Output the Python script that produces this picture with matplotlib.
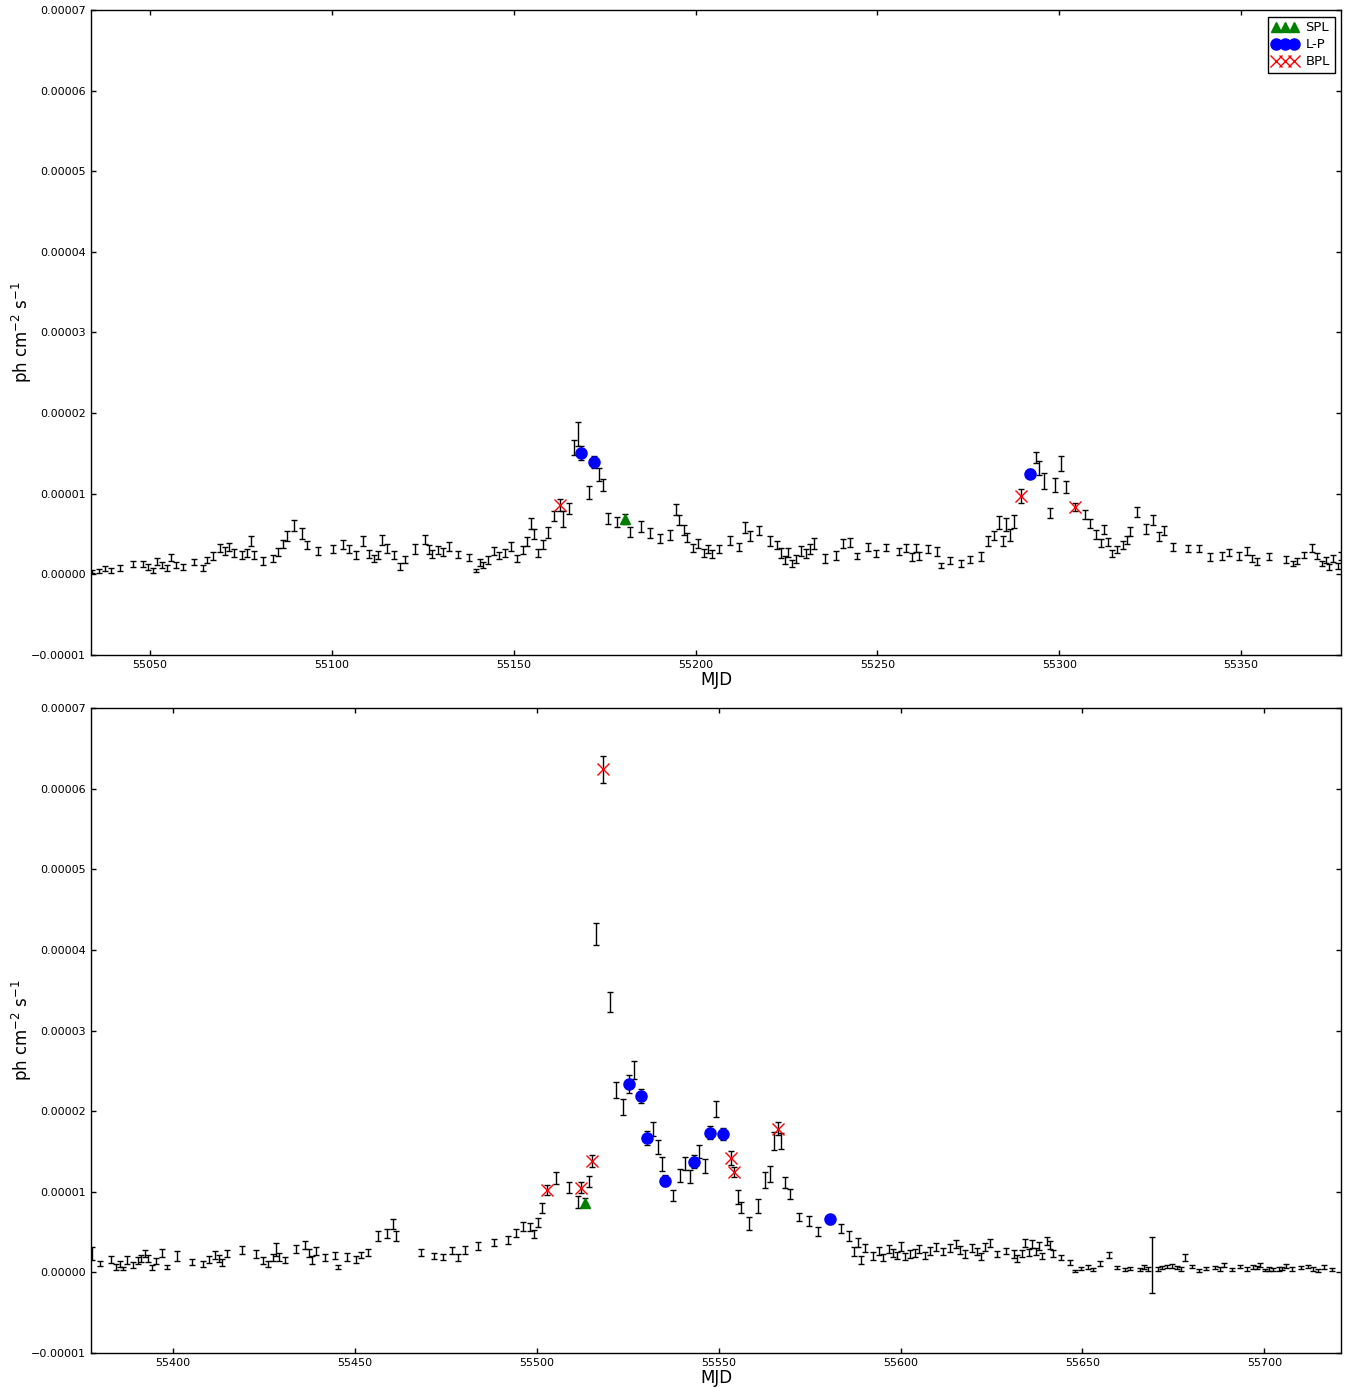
import numpy as np
import matplotlib
matplotlib.use("Agg")
import matplotlib.pyplot as plt
from matplotlib.ticker import FuncFormatter, MultipleLocator

SCALE = 1e-5  # flux values below are in units of 1e-5 ph cm^-2 s^-1

# ---- top panel: MJD, flux, error ----
top_t = [55034.0, 55036.1, 55037.6, 55039.3, 55041.8, 55045.2, 55048.2, 55049.5, 55050.7, 55051.8,
         55053.2, 55054.7, 55055.8, 55057.1, 55059.2, 55062.2, 55064.7, 55065.7, 55067.2, 55069.3,
         55070.7, 55071.7, 55073.2, 55075.2, 55076.6, 55077.8, 55078.7, 55081.2, 55083.7, 55085.3,
         55086.7, 55087.7, 55089.7, 55091.7, 55093.2, 55096.3, 55100.2, 55103.2, 55104.6, 55106.6,
         55108.7, 55110.1, 55111.6, 55112.6, 55113.8, 55115.2, 55117.2, 55118.7, 55120.2,
         55123.0, 55125.6, 55126.8, 55127.6, 55129.1, 55130.7, 55132.2, 55134.6, 55137.7, 55139.6,
         55140.7, 55141.5, 55143.0, 55144.7, 55146.1, 55147.6, 55149.2, 55151.0, 55152.5, 55153.6,
         55154.7, 55155.6, 55156.6, 55158.0, 55159.5, 55161.1, 55162.6, 55163.6, 55165.2, 55166.6,
         55167.8, 55168.5, 55170.7, 55172.1, 55173.5, 55174.6, 55176.0, 55178.5, 55180.6, 55182.0,
         55185.0, 55187.5, 55190.1, 55193.0, 55194.6, 55195.5, 55196.7, 55197.6, 55199.2, 55200.6,
         55202.2, 55203.5, 55204.6, 55206.5,
         55209.5, 55212.0, 55213.6, 55215.0, 55217.5, 55220.5, 55222.5, 55223.5, 55224.6, 55225.3,
         55226.4, 55227.6, 55228.9, 55230.5, 55231.5, 55232.6, 55235.6, 55238.5, 55240.6, 55242.5,
         55244.5, 55247.5, 55249.5, 55252.5, 55256.0, 55258.0, 55259.4, 55260.6, 55261.4, 55264.0,
         55266.5, 55267.4, 55270.0, 55272.9, 55275.5, 55278.5, 55280.5, 55282.1, 55283.4, 55284.5,
         55285.4, 55286.5, 55287.6, 55289.5,
         55292.0, 55293.6, 55294.5, 55295.9, 55297.5, 55298.9, 55300.5, 55301.9, 55304.3, 55307.1,
         55308.5, 55310.0, 55311.4, 55312.4, 55313.3, 55314.6, 55316.0, 55317.4, 55318.5, 55319.5,
         55321.3, 55323.9, 55325.9, 55327.5, 55328.9, 55331.4, 55335.3, 55338.4, 55341.5, 55344.8,
         55346.8, 55349.4, 55351.5, 55352.9, 55354.3, 55357.8, 55362.3, 55364.4, 55365.3, 55367.4,
         55369.4, 55370.8, 55372.2, 55373.3, 55374.3, 55375.4, 55376.7, 55377.4]
top_f = [0.033, 0.041, 0.070, 0.050, 0.083, 0.128, 0.128, 0.095, 0.050, 0.157,
         0.116, 0.083, 0.207, 0.116, 0.095, 0.153, 0.079, 0.178, 0.227, 0.326,
         0.285, 0.339, 0.269, 0.240, 0.269, 0.413, 0.244, 0.165, 0.194, 0.277,
         0.376, 0.475, 0.607, 0.508, 0.360, 0.289, 0.310, 0.368, 0.310, 0.244,
         0.417, 0.252, 0.194, 0.244, 0.430, 0.326, 0.244, 0.095, 0.186,
         0.318, 0.434, 0.310, 0.248, 0.302, 0.277, 0.351, 0.248, 0.207, 0.050,
         0.145, 0.116, 0.178, 0.289, 0.231, 0.260, 0.351, 0.198, 0.302, 0.413,
         0.628, 0.504, 0.269, 0.372, 0.517, 0.723, 0.864, 0.682, 0.814, 1.570,
         1.736, 1.508, 1.012, 1.393, 1.240, 1.103, 0.694, 0.649, 0.690, 0.529,
         0.591, 0.517, 0.446, 0.488, 0.806, 0.674, 0.550, 0.455, 0.322, 0.384,
         0.269, 0.310, 0.248, 0.318,
         0.421, 0.339, 0.579, 0.475, 0.545, 0.417, 0.360, 0.269, 0.174, 0.269,
         0.136, 0.194, 0.289, 0.256, 0.318, 0.384, 0.194, 0.236, 0.384, 0.393,
         0.227, 0.343, 0.260, 0.331, 0.285, 0.322, 0.215, 0.322, 0.227, 0.310,
         0.289, 0.112, 0.174, 0.132, 0.186, 0.227, 0.413, 0.483, 0.640, 0.417,
         0.620, 0.483, 0.661, 0.971,
         1.248, 1.446, 1.322, 1.157, 0.764, 1.107, 1.372, 1.083, 0.839, 0.744,
         0.632, 0.496, 0.393, 0.558, 0.401, 0.256, 0.310, 0.364, 0.426, 0.537,
         0.773, 0.566, 0.674, 0.467, 0.545, 0.343, 0.322, 0.322, 0.215, 0.227,
         0.269, 0.227, 0.289, 0.198, 0.157, 0.219, 0.186, 0.136, 0.165, 0.240,
         0.331, 0.227, 0.136, 0.178, 0.091, 0.194, 0.103, 0.227]
top_e = [0.02, 0.03, 0.03, 0.03, 0.035, 0.035, 0.035, 0.035, 0.03, 0.04,
         0.04, 0.035, 0.045, 0.04, 0.035, 0.04, 0.035, 0.04, 0.045, 0.05,
         0.05, 0.05, 0.05, 0.05, 0.05, 0.06, 0.05, 0.045, 0.045, 0.05,
         0.055, 0.06, 0.065, 0.065, 0.05, 0.05, 0.05, 0.055, 0.05, 0.05,
         0.065, 0.05, 0.045, 0.05, 0.06, 0.055, 0.05, 0.04, 0.045,
         0.06, 0.06, 0.055, 0.05, 0.05, 0.05, 0.055, 0.045, 0.045, 0.02,
         0.045, 0.04, 0.045, 0.05, 0.045, 0.05, 0.055, 0.045, 0.05, 0.055,
         0.07, 0.06, 0.05, 0.06, 0.065, 0.065, 0.075, 0.10, 0.07, 0.095,
         0.15, 0.09, 0.08, 0.075, 0.085, 0.075, 0.07, 0.065, 0.06, 0.06,
         0.065, 0.06, 0.055, 0.06, 0.07, 0.065, 0.06, 0.055, 0.05, 0.055,
         0.05, 0.05, 0.05, 0.05,
         0.055, 0.055, 0.065, 0.06, 0.055, 0.06, 0.05, 0.06, 0.05, 0.055,
         0.04, 0.05, 0.065, 0.055, 0.06, 0.07, 0.055, 0.055, 0.06, 0.055,
         0.04, 0.05, 0.045, 0.045, 0.045, 0.05, 0.05, 0.05, 0.05, 0.05,
         0.055, 0.035, 0.04, 0.045, 0.045, 0.055, 0.06, 0.06, 0.08, 0.06,
         0.08, 0.075, 0.08, 0.09,
         0.055, 0.07, 0.087, 0.10, 0.065, 0.085, 0.09, 0.07, 0.05, 0.06,
         0.055, 0.055, 0.05, 0.055, 0.05, 0.045, 0.045, 0.05, 0.05, 0.055,
         0.06, 0.06, 0.06, 0.055, 0.055, 0.05, 0.045, 0.045, 0.045, 0.045,
         0.045, 0.045, 0.05, 0.04, 0.04, 0.04, 0.04, 0.035, 0.04, 0.04,
         0.05, 0.04, 0.035, 0.04, 0.035, 0.045, 0.035, 0.05]

top_spl_t, top_spl_f = [55180.6], [0.690]
top_lp_t, top_lp_f = [55168.5, 55172.1, 55292.0], [1.508, 1.393, 1.248]
top_bpl_t, top_bpl_f = [55162.6, 55289.5, 55304.3], [0.864, 0.971, 0.839]

# ---- bottom panel ----
bot_t = [55377.6, 55379.9, 55382.9, 55384.3, 55385.4, 55386.3, 55387.3, 55388.9, 55390.3, 55391.2,
         55392.4, 55393.0, 55394.2, 55395.3, 55396.9, 55398.3, 55401.0, 55405.1, 55408.3, 55409.8,
         55411.5, 55412.5, 55413.4, 55414.9, 55418.9, 55422.8, 55424.8, 55426.2, 55427.4, 55428.3,
         55429.2, 55430.8, 55433.8, 55436.3, 55437.5, 55438.1, 55439.3, 55441.8, 55444.4, 55445.3,
         55447.8, 55450.3, 55451.7, 55453.7, 55456.3, 55458.7, 55460.4, 55461.3,
         55468.2, 55471.8, 55474.1, 55476.8, 55478.3, 55480.3, 55483.8, 55488.3, 55492.2, 55494.3,
         55496.3, 55498.2, 55499.3, 55500.3, 55501.4, 55502.7, 55505.2, 55508.9, 55511.3, 55512.2,
         55513.3, 55514.3, 55515.1, 55516.3, 55518.1, 55520.2, 55521.8, 55523.6, 55525.3, 55526.8,
         55528.7, 55530.2, 55531.8, 55533.3, 55534.4, 55535.3, 55537.3, 55539.4, 55540.8, 55542.2,
         55543.3, 55544.7, 55546.3, 55547.7, 55549.2,
         55551.1, 55553.3, 55554.2, 55555.2, 55556.2, 55558.2, 55560.8, 55562.8, 55564.1, 55565.2,
         55566.2, 55567.1, 55568.3, 55569.6, 55572.1, 55574.7, 55577.2, 55580.6, 55583.7, 55585.7,
         55587.2, 55588.2, 55589.2, 55590.1, 55592.3, 55594.2, 55595.1, 55596.7, 55598.0, 55599.0,
         55600.1, 55601.3, 55602.6, 55604.0, 55605.1, 55606.8, 55608.1, 55609.7, 55611.6, 55613.6,
         55615.2, 55616.2, 55617.8, 55619.6, 55621.0, 55622.1, 55623.3, 55624.6, 55626.6, 55629.0,
         55631.1, 55632.0, 55633.3, 55634.3, 55635.2,
         55636.1, 55637.2, 55638.1, 55639.0, 55640.2, 55641.1, 55642.0, 55644.1, 55646.6, 55648.0,
         55649.6, 55651.5, 55653.0, 55654.9, 55657.2, 55659.5, 55661.8, 55663.0, 55665.7, 55666.8,
         55668.0, 55669.1, 55670.7, 55672.0, 55673.2, 55674.6, 55675.9, 55677.2, 55678.1, 55680.1,
         55681.9, 55684.0, 55686.5, 55687.9, 55689.0, 55691.1, 55693.2, 55695.2, 55696.9, 55698.0,
         55698.9, 55700.3, 55701.4, 55702.5, 55703.9, 55704.8, 55705.9, 55707.6, 55710.1, 55711.9,
         55713.3, 55714.7, 55716.5, 55718.6]
bot_f = [0.230, 0.112, 0.161, 0.070, 0.103, 0.050, 0.153, 0.091, 0.145, 0.174,
         0.236, 0.174, 0.062, 0.140, 0.236, 0.062, 0.202, 0.132, 0.103, 0.161,
         0.215, 0.174, 0.120, 0.236, 0.277, 0.223, 0.145, 0.103, 0.186, 0.289,
         0.194, 0.153, 0.289, 0.339, 0.236, 0.153, 0.264, 0.186, 0.207, 0.070,
         0.194, 0.161, 0.215, 0.248, 0.455, 0.483, 0.599, 0.455,
         0.244, 0.203, 0.187, 0.270, 0.187, 0.278, 0.328, 0.369, 0.402, 0.494,
         0.568, 0.568, 0.477, 0.618, 0.795, 1.022, 1.175, 1.055, 0.877, 1.050,
         0.865, 1.125, 1.385, 4.200, 6.240, 3.350, 2.260, 2.050, 2.334, 2.510,
         2.185, 1.669, 1.776, 1.557, 1.342, 1.136, 0.950, 1.198, 1.351, 1.186,
         1.371, 1.495, 1.322, 1.735, 2.024,
         1.722, 1.421, 1.247, 0.938, 0.805, 0.607, 0.822, 1.144, 1.219, 1.632,
         1.784, 1.632, 1.111, 0.971, 0.690, 0.640, 0.504, 0.657, 0.545, 0.450,
         0.256, 0.372, 0.153, 0.297, 0.207, 0.268, 0.186, 0.285, 0.244, 0.207,
         0.318, 0.194, 0.227, 0.244, 0.285, 0.207, 0.268, 0.310, 0.256, 0.297,
         0.351, 0.277, 0.227, 0.297, 0.256, 0.194, 0.318, 0.368, 0.227, 0.268,
         0.227, 0.173, 0.236, 0.360, 0.248,
         0.351, 0.256, 0.327, 0.202, 0.392, 0.339, 0.236, 0.186, 0.120, 0.017,
         0.050, 0.062, 0.037, 0.112, 0.215, 0.062, 0.037, 0.050, 0.037, 0.070,
         0.041, 0.091, 0.041, 0.058, 0.070, 0.083, 0.058, 0.041, 0.186, 0.070,
         0.021, 0.050, 0.062, 0.041, 0.091, 0.037, 0.070, 0.041, 0.070, 0.062,
         0.091, 0.029, 0.041, 0.037, 0.041, 0.050, 0.079, 0.041, 0.058, 0.070,
         0.041, 0.021, 0.070, 0.037]
bot_e = [0.08, 0.035, 0.045, 0.035, 0.035, 0.02, 0.045, 0.035, 0.04, 0.04,
         0.045, 0.04, 0.03, 0.04, 0.05, 0.025, 0.06, 0.035, 0.035, 0.04,
         0.045, 0.04, 0.045, 0.045, 0.045, 0.05, 0.045, 0.035, 0.045, 0.08,
         0.05, 0.04, 0.05, 0.05, 0.05, 0.05, 0.05, 0.045, 0.045, 0.025,
         0.05, 0.04, 0.04, 0.045, 0.06, 0.06, 0.06, 0.06,
         0.04, 0.035, 0.035, 0.04, 0.04, 0.045, 0.045, 0.045, 0.05, 0.05,
         0.055, 0.05, 0.055, 0.055, 0.06, 0.065, 0.073, 0.07, 0.075, 0.065,
         0.06, 0.07, 0.075, 0.135, 0.165, 0.125, 0.103, 0.10, 0.11, 0.11,
         0.09, 0.085, 0.09, 0.09, 0.09, 0.07, 0.07, 0.08, 0.08, 0.08,
         0.08, 0.08, 0.085, 0.085, 0.10,
         0.075, 0.085, 0.065, 0.085, 0.07, 0.075, 0.085, 0.10, 0.10, 0.113,
         0.085, 0.10, 0.07, 0.065, 0.05, 0.06, 0.055, 0.055, 0.06, 0.06,
         0.055, 0.06, 0.045, 0.05, 0.05, 0.05, 0.045, 0.05, 0.05, 0.045,
         0.055, 0.045, 0.045, 0.05, 0.05, 0.045, 0.05, 0.05, 0.045, 0.05,
         0.05, 0.045, 0.045, 0.05, 0.045, 0.045, 0.05, 0.05, 0.04, 0.04,
         0.045, 0.04, 0.045, 0.05, 0.045,
         0.045, 0.045, 0.045, 0.04, 0.05, 0.045, 0.04, 0.035, 0.03, 0.015,
         0.02, 0.025, 0.02, 0.03, 0.04, 0.02, 0.02, 0.02, 0.02, 0.025,
         0.02, 0.35, 0.02, 0.02, 0.02, 0.025, 0.02, 0.02, 0.04, 0.02,
         0.015, 0.02, 0.02, 0.02, 0.025, 0.02, 0.02, 0.02, 0.025, 0.02,
         0.025, 0.015, 0.02, 0.02, 0.02, 0.02, 0.025, 0.02, 0.02, 0.02,
         0.02, 0.015, 0.025, 0.02]

bot_spl_t, bot_spl_f = [55513.3], [0.865]
bot_lp_t = [55525.3, 55528.7, 55530.2, 55535.3, 55543.3, 55547.7, 55551.1, 55580.6]
bot_lp_f = [2.334, 2.185, 1.669, 1.136, 1.371, 1.735, 1.722, 0.657]
bot_bpl_t = [55502.7, 55512.2, 55515.1, 55518.1, 55553.3, 55554.2, 55566.2]
bot_bpl_f = [1.022, 1.050, 1.385, 6.240, 1.421, 1.247, 1.784]


def fmt_y(v, pos):
    return ("%.5f" % v).replace("-", "\u2212")


def panel(ax, t, f, e, spl, lp, bpl, xlim, legend=False):
    ax.errorbar(t, np.array(f) * SCALE, yerr=np.array(e) * SCALE, fmt="none",
                ecolor="black", elinewidth=1.0, capsize=2, capthick=1.0, zorder=2)
    ax.plot(spl[0], np.array(spl[1]) * SCALE, "^", color="green", ms=7.5,
            mec="green", label="SPL", zorder=3)
    ax.plot(lp[0], np.array(lp[1]) * SCALE, "o", color="blue", ms=8,
            mec="blue", label="L-P", zorder=3)
    ax.plot(bpl[0], np.array(bpl[1]) * SCALE, "x", color="red", ms=9,
            mew=1.0, label="BPL", zorder=3)
    ax.set_xlim(*xlim)
    ax.set_ylim(-1e-5, 7e-5)
    ax.yaxis.set_major_locator(MultipleLocator(1e-5))
    ax.xaxis.set_major_locator(MultipleLocator(50))
    ax.yaxis.set_major_formatter(FuncFormatter(fmt_y))
    ax.xaxis.set_major_formatter(FuncFormatter(lambda v, p: "%d" % v))
    ax.tick_params(direction="in", top=True, right=True, length=3.5,
                   width=1, labelsize=8)
    ax.set_xlabel("MJD", fontsize=12, labelpad=1)
    ax.set_ylabel(r"ph cm$^{-2}$ s$^{-1}$", fontsize=12)
    ax.yaxis.set_label_coords(-0.046, 0.5)
    for s in ax.spines.values():
        s.set_linewidth(1.0)
    if legend:
        ax.legend(loc="upper right", numpoints=3, fontsize=9.5, fancybox=False,
                  edgecolor="black", framealpha=1, handlelength=1.9,
                  borderaxespad=0.5, borderpad=0.35, labelspacing=0.3,
                  handletextpad=0.6)


fig = plt.figure(figsize=(13.45, 13.88), dpi=100)
ax1 = fig.add_axes([0.0677, 0.5281, 0.9294, 0.4647])
ax2 = fig.add_axes([0.0677, 0.0252, 0.9294, 0.4647])

panel(ax1, top_t, top_f, top_e, (top_spl_t, top_spl_f), (top_lp_t, top_lp_f),
      (top_bpl_t, top_bpl_f), (55033.8, 55377.5), legend=True)
panel(ax2, bot_t, bot_f, bot_e, (bot_spl_t, bot_spl_f), (bot_lp_t, bot_lp_f),
      (bot_bpl_t, bot_bpl_f), (55377.45, 55721.1))

fig.savefig("out.png", dpi=100)
